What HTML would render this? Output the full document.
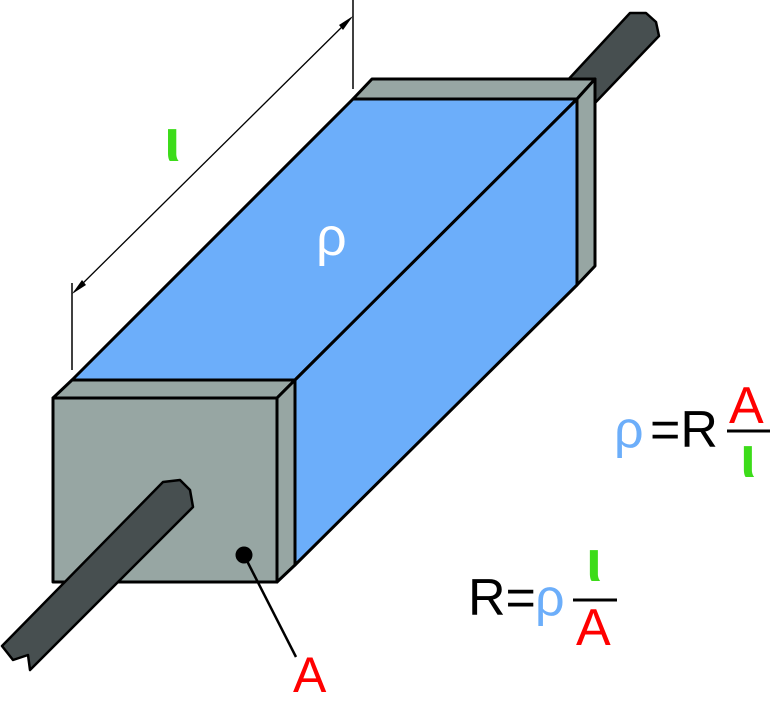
<!DOCTYPE html>
<html><head><style>html,body{margin:0;padding:0;background:#fff}svg{display:block}</style></head>
<body>
<svg width="770" height="707" viewBox="0 0 770 707" xmlns="http://www.w3.org/2000/svg" font-family="Liberation Sans, DejaVu Sans, sans-serif">
<!-- back rod -->
<path d="M566,82 L630,13 L646,13 L656,22 L659,36 L594,104 Z" fill="#474f50" stroke="#000" stroke-width="2.5" stroke-linejoin="round"/>
<!-- back cap -->
<path d="M353,99 L372,79 L595,79 L577,99 Z" fill="#97a6a3" stroke="#000" stroke-width="3" stroke-linejoin="round"/>
<path d="M577,99 L595,79 L595,266 L577,285 Z" fill="#97a6a3" stroke="#000" stroke-width="3" stroke-linejoin="round"/>
<!-- blue faces -->
<path d="M72,380 L353,99 L577,99 L295,380 Z" fill="#6caefa" stroke="#000" stroke-width="3" stroke-linejoin="round"/>
<path d="M295,380 L577,99 L577,285 L295,565 Z" fill="#6caefa" stroke="#000" stroke-width="3" stroke-linejoin="round"/>
<!-- front cap -->
<path d="M53,398 L72,380 L295,380 L277,398 Z" fill="#97a6a3" stroke="#000" stroke-width="3" stroke-linejoin="round"/>
<path d="M277,398 L295,380 L295,565 L277,582 Z" fill="#97a6a3" stroke="#000" stroke-width="3" stroke-linejoin="round"/>
<rect x="53" y="398" width="224" height="184" fill="#97a6a3" stroke="#000" stroke-width="3" stroke-linejoin="round"/>
<!-- front rod -->
<path d="M163,482 L180,480 L190,490 L193,507 L30,670 L28,655 L13,660 L2,646 Z" fill="#474f50" stroke="#000" stroke-width="2.5" stroke-linejoin="round"/>
<!-- A pointer -->
<circle cx="244" cy="555" r="8.5" fill="#000"/>
<line x1="244" y1="555" x2="296" y2="657" stroke="#000" stroke-width="2.5"/>
<text x="293" y="692" font-size="50" fill="#ff0000">A</text>
<!-- dimension -->
<line x1="72" y1="283" x2="72" y2="370" stroke="#000" stroke-width="1.5"/>
<line x1="353" y1="0" x2="353" y2="89" stroke="#000" stroke-width="1.5"/>
<line x1="74" y1="292" x2="351" y2="18" stroke="#000" stroke-width="1.3"/>
<path d="M72,294 L82,280 L86,285 Z" fill="#000"/>
<path d="M353,16 L343,30 L339,25 Z" fill="#000"/>
<text x="164" y="161" font-size="60" font-weight="bold" fill="#3ddc1a">ι</text>
<text x="316" y="255" font-size="54" fill="#fff">ρ</text>
<!-- formula 1 -->
<text x="614" y="447" font-size="52" fill="#6caefa">ρ</text>
<text x="650" y="447" font-size="52" fill="#000">=R</text>
<line x1="727" y1="431" x2="770" y2="431" stroke="#000" stroke-width="3"/>
<text x="729" y="423" font-size="52" fill="#ff0000">A</text>
<text x="740" y="477" font-size="58" font-weight="bold" fill="#3ddc1a">ι</text>
<!-- formula 2 -->
<text x="468" y="615" font-size="52" fill="#000">R=</text>
<text x="535" y="615" font-size="52" fill="#6caefa">ρ</text>
<line x1="573" y1="600" x2="617" y2="600" stroke="#000" stroke-width="3"/>
<text x="586" y="581" font-size="58" font-weight="bold" fill="#3ddc1a">ι</text>
<text x="576" y="645" font-size="52" fill="#ff0000">A</text>
</svg>
</body></html>
